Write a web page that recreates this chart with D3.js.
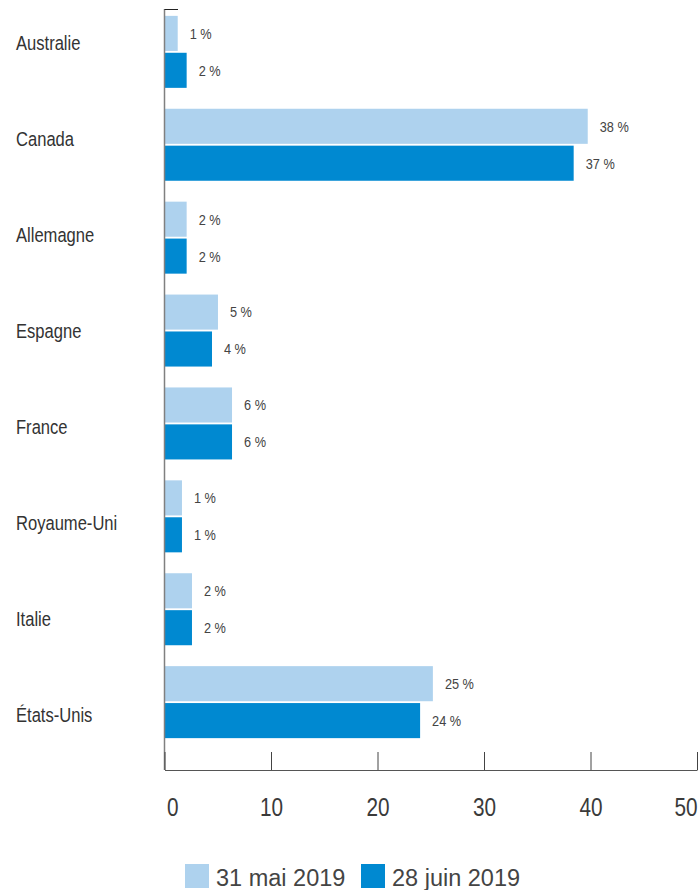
<!DOCTYPE html>
<html>
<head>
<meta charset="utf-8">
<script src="https://cdn.jsdelivr.net/npm/d3@7"></script>
<style>
  html, body { margin: 0; padding: 0; background: #fff; }
  svg { display: block; }
</style>
</head>
<body>
<svg id="chart" width="700" height="890"></svg>
<script>
const categories = ["Australie", "Canada", "Allemagne", "Espagne", "France", "Royaume-Uni", "Italie", "États-Unis"];
const seriesNames = ["31 mai 2019", "28 juin 2019"];
const mayValues = [1.24, 39.74, 2.08, 5.02, 6.34, 1.64, 2.58, 25.2];
const juneValues = [2.08, 38.42, 2.08, 4.46, 6.34, 1.64, 2.58, 24.0];
const mayLabels = ["1 %", "38 %", "2 %", "5 %", "6 %", "1 %", "2 %", "25 %"];
const juneLabels = ["2 %", "37 %", "2 %", "4 %", "6 %", "1 %", "2 %", "24 %"];
const xTicks = [0, 10, 20, 30, 40, 50];
const colors = ["#AED2EE", "#0089D1"];

const svg = d3.select("#chart");
const font = "'Liberation Sans', Arial, Helvetica, sans-serif";

const x = d3.scaleLinear().domain([0, 50]).range([164.5, 697]);
const y = d3.scaleBand().domain(categories).range([5.5, 748.5]).paddingInner(0.225).paddingOuter(0.1115);
const inner = d3.scaleBand().domain([0, 1]).range([0, y.bandwidth()]).paddingInner(0.05);
const labelY = d3.scalePoint().domain(categories).range([43, 715]);

const rows = categories.map((c, i) => ({
  cat: c,
  bars: [
    { s: 0, v: mayValues[i], lab: mayLabels[i] },
    { s: 1, v: juneValues[i], lab: juneLabels[i] }
  ]
}));

const g = svg.selectAll("g.row").data(rows).join("g")
  .attr("class", "row")
  .attr("transform", d => `translate(0,${y(d.cat)})`);

g.selectAll("rect").data(d => d.bars).join("rect")
  .attr("x", x(0))
  .attr("y", d => inner(d.s))
  .attr("width", d => x(d.v) - x(0))
  .attr("height", inner.bandwidth())
  .attr("fill", d => colors[d.s]);

// value labels (condensed look via horizontal scaling)
g.selectAll("text.val").data(d => d.bars).join("text")
  .attr("class", "val")
  .attr("transform", d => `translate(${x(d.v) + 12},${inner(d.s) + inner.bandwidth() / 2}) scale(0.85,1)`)
  .attr("dy", "0.36em")
  .attr("font-family", font)
  .attr("font-size", 15)
  .attr("fill", "#444")
  .text(d => d.lab);

// category labels
svg.selectAll("text.cat").data(categories).join("text")
  .attr("class", "cat")
  .attr("transform", d => `translate(16,${labelY(d)}) scale(0.85,1)`)
  .attr("dy", "0.36em")
  .attr("font-family", font)
  .attr("font-size", 19.5)
  .attr("fill", "#333")
  .text(d => d);

// y axis line
svg.append("line")
  .attr("x1", x(0)).attr("x2", x(0))
  .attr("y1", 9).attr("y2", 770)
  .attr("stroke", "#808080").attr("stroke-width", 1.5);
svg.append("line")
  .attr("x1", x(0)).attr("x2", 178)
  .attr("y1", 9.5).attr("y2", 9.5)
  .attr("stroke", "#222").attr("stroke-width", 1);

// x axis
const xAxis = svg.append("g")
  .attr("transform", "translate(0,770)")
  .call(d3.axisBottom(x).tickValues(xTicks).tickSizeInner(-18).tickSizeOuter(0).tickPadding(28).tickFormat(d3.format("d")));
xAxis.select(".domain").attr("stroke", "#555").attr("stroke-width", 1.2);
xAxis.selectAll(".tick line").attr("stroke", "#444");
xAxis.selectAll(".tick text")
  .attr("font-family", font)
  .attr("font-size", 25)
  .attr("fill", "#3a3a3a")
  .attr("text-anchor", (d, i) => i === 0 ? "start" : (i === xTicks.length - 1 ? "end" : "middle"))
  .attr("x", (d, i) => i === 0 ? 2.5 : 0)
  .attr("transform", "scale(0.83,1)");

// legend
const legend = svg.append("g").attr("transform", "translate(185,864)");
const lx = [0, 176];
seriesNames.forEach((name, i) => {
  legend.append("rect").attr("x", lx[i]).attr("y", 0).attr("width", 24).attr("height", 24).attr("fill", colors[i]);
  legend.append("text").attr("x", lx[i] + 31).attr("y", 21.5)
    .attr("font-family", font).attr("font-size", 23.5).attr("fill", "#444").text(name);
});
</script>
</body>
</html>
